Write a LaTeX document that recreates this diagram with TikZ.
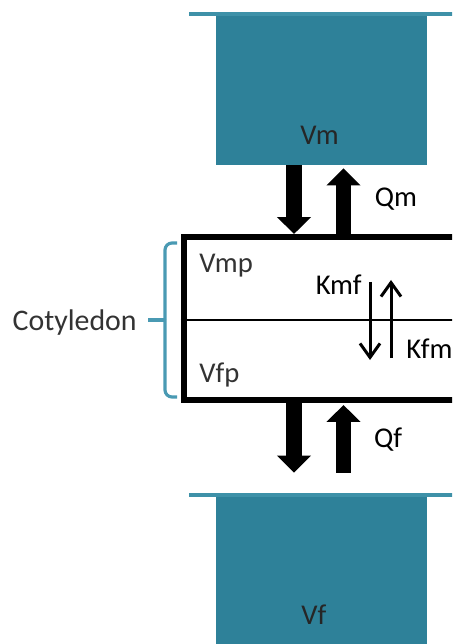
\documentclass[tikz,border=0pt]{standalone}
\usepackage{fontspec}
\setmainfont{Carlito}
\usetikzlibrary{arrows.meta, positioning, calc}
\definecolor{tankteal}{HTML}{2E8199}
\definecolor{lipteal}{HTML}{3E91A8}
\definecolor{braceteal}{HTML}{4A9AB3}
\definecolor{txtgray}{HTML}{333333}

\begin{document}
\begin{tikzpicture}[x=0.02cm, y=-0.02cm,
    tank/.style={fill=tankteal, minimum width=4.22cm, minimum height=3cm, inner sep=0pt},
    lip/.style={draw=lipteal, line width=2.2pt},
    lbl/.style={font=\fontsize{16.3}{20}\selectfont, inner sep=0pt},
    flow/.style={line width=9pt, -{Triangle[length=0.34cm, width=0.66cm]}},
    rate/.style={line width=1.7pt, -{Straight Barb[length=0.28cm, width=0.4cm]}},
]
    \useasboundingbox (0,0) rectangle (452,644);
    \clip (0,0) rectangle (452,644);

    % reservoirs
    \node[tank] (vm) at (321.5,90) {};
    \node[tank] (vf) at (321.5,571) {};
    \draw[lip] (189,14) -- (460,14);
    \draw[lip] (189,495) -- (460,495);
    \node[lbl, anchor=base west, text=black!85] (vmlbl) at (300,145) {Vm};
    \node[lbl, anchor=base west, text=black!85] (vflbl) at (301,624) {Vf};

    % cotyledon compartment
    \node[draw, line width=3.4pt, minimum width=5.63cm, minimum height=3.26cm, inner sep=0pt]
        (cot) at (324.25,318.5) {};
    \draw[line width=1.7pt] (cot.west |- 0,320) -- (cot.east |- 0,320);
    \node[lbl, anchor=base west, text=txtgray] (vmp) at (199,273) {Vmp};
    \node[lbl, anchor=base west, text=txtgray] (vfp) at (199,382) {Vfp};

    % exchange between reservoirs and compartment
    \draw[flow] ([xshift=-0.55cm]vm.south) -- ([xshift=-0.55cm]vm.south |- cot.north);
    \draw[flow] ([xshift=0.44cm]vm.south |- cot.north) -- ([xshift=0.44cm, yshift=-0.06cm]vm.south);
    \draw[flow] ([xshift=-0.55cm]vf.north |- cot.south) -- ([xshift=-0.55cm, yshift=0.46cm]vf.north);
    \draw[flow] ([xshift=0.44cm, yshift=0.46cm]vf.north) -- ([xshift=0.44cm, yshift=-0.04cm]vf.north |- cot.south);
    \node[lbl, anchor=base, text=black] (qm) at (396,207) {Qm};
    \node[lbl, anchor=base, text=black] (qf) at (388,447) {Qf};

    % transfer across the membrane
    \coordinate (kmfa) at (370,282);
    \coordinate (kmfb) at (370,360);
    \coordinate (kfma) at (391,358);
    \coordinate (kfmb) at (391,280);
    \draw[rate] (kmfa) -- (kmfb);
    \draw[rate] (kfma) -- (kfmb);
    \node[lbl, anchor=base east, text=black] (kmf) at (362,295) {Kmf};
    \node[lbl, anchor=base west, text=black] (kfm) at (406,358) {Kfm};

    % brace
    \draw[braceteal, line width=1.8pt, rounded corners=4pt] (177,243) -- (165,243) -- (165,320);
    \draw[braceteal, line width=1.8pt, rounded corners=4pt] (165,320) -- (165,397) -- (177,397);
    \draw[braceteal, line width=1.8pt] (148,320) -- (165,320);
    \node[lbl, font=\fontsize{17}{20}\selectfont, anchor=base east, text=txtgray] (cotlbl) at (137,331) {Cotyledon};
\end{tikzpicture}
\end{document}
